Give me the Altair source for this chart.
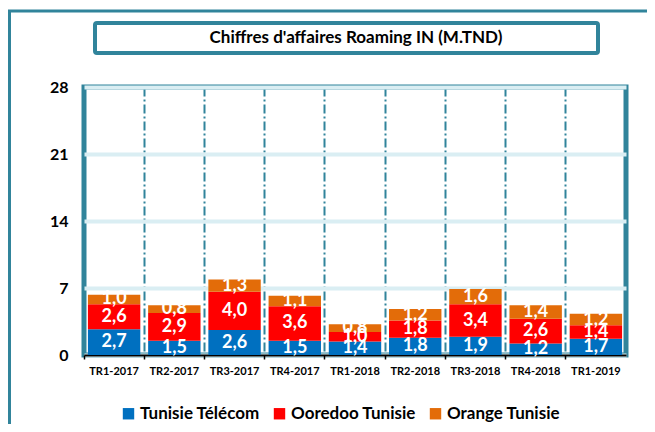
import altair as alt
import pandas as pd

quarters = ["TR1-2017", "TR2-2017", "TR3-2017", "TR4-2017", "TR1-2018",
            "TR2-2018", "TR3-2018", "TR4-2018", "TR1-2019"]
operators = ["Tunisie Télécom", "Ooredoo Tunisie", "Orange Tunisie"]
colors = ["#0070C0", "#FF0000", "#E36C09"]
tt = [2.7, 1.5, 2.6, 1.5, 1.4, 1.8, 1.9, 1.2, 1.7]
ooredoo = [2.6, 2.9, 4.0, 3.6, 1.0, 1.8, 3.4, 2.6, 1.4]
orange = [1.0, 0.8, 1.3, 1.1, 0.8, 1.2, 1.6, 1.4, 1.2]
y_ticks = [0, 7, 14, 21, 28]
title_text = "Chiffres d'affaires Roaming IN (M.TND)"

rows = []
for i, q in enumerate(quarters):
    for k, (op, vals) in enumerate(zip(operators, [tt, ooredoo, orange])):
        rows.append({"quarter": q, "operator": op, "value": vals[i], "order": k})
df = pd.DataFrame(rows)

FONT = "Lato"
TEAL = "#31849B"
W, H = 542, 268

base = alt.Chart(df).transform_stack(
    stack="value", groupby=["quarter"], as_=["y0", "y1"],
    sort=[alt.SortField("order", order="ascending")]
).transform_calculate(
    mid="(datum.y0 + datum.y1) / 2",
    label="replace(format(datum.value, '.1f'), '.', ',')"
)

x_enc = alt.X("quarter:N", sort=quarters, title=None,
              scale=alt.Scale(paddingInner=0, paddingOuter=0),
              axis=alt.Axis(labelAngle=0, labelFontWeight="bold", labelFontSize=11,
                            labelColor="black", labelPadding=6,
                            domainColor="black", domainWidth=2,
                            ticks=True, tickColor="black", tickSize=4, tickWidth=1.5,
                            bandPosition=0,
                            grid=True, gridColor=TEAL, gridWidth=2,
                            gridDash=[9, 3, 2, 3]))

bars = base.mark_bar(width=alt.RelativeBandSize(0.87)).encode(
    x=x_enc,
    y=alt.Y("y0:Q", title=None,
            scale=alt.Scale(domain=[0, 28], nice=False),
            axis=alt.Axis(values=y_ticks, domain=False, ticks=False,
                          labelFontWeight="bold", labelFontSize=16, labelColor="black",
                          labelPadding=16, grid=True, gridColor="#DAEEF3", gridWidth=4)),
    y2="y1:Q",
    color=alt.Color("operator:N", title=None,
                    scale=alt.Scale(domain=operators, range=colors),
                    legend=alt.Legend(orient="none", direction="horizontal",
                                      legendX=36, legendY=318,
                                      symbolType="square", symbolSize=130,
                                      symbolStrokeWidth=0,
                                      labelFontSize=17, labelFontWeight="bold",
                                      labelColor="black", columnPadding=11,
                                      labelOffset=3)),
    order=alt.Order("order:Q")
)

labels = base.mark_text(color="white", fontWeight="bold", fontSize=18,
                        baseline="middle", font=FONT).encode(
    x=alt.X("quarter:N", sort=quarters),
    y="mid:Q",
    text="label:N"
)

one = alt.Data(values=[{}])
frame_left = alt.Chart(one).mark_rule(color=TEAL, strokeWidth=3).encode(
    x=alt.value(-74.5), y=alt.value(-77), y2=alt.value(H + 90))
frame_top = alt.Chart(one).mark_rule(color=TEAL, strokeWidth=3).encode(
    x=alt.value(-76), x2=alt.value(W + 60), y=alt.value(-76))
title_box = alt.Chart(one).mark_rect(fill="white", stroke=TEAL, strokeWidth=4,
                                    cornerRadius=2).encode(
    x=alt.value(11), x2=alt.value(514), y=alt.value(-64), y2=alt.value(-34))
title = alt.Chart(one).mark_text(text=title_text, font=FONT, fontWeight="bold",
                                 fontSize=17, color="black", baseline="middle").encode(
    x=alt.value(272), y=alt.value(-49))

chart = alt.layer(frame_left, frame_top, title_box, title, bars, labels).properties(
    width=W, height=H,
    autosize=alt.AutoSizeParams(type="none"),
    padding={"left": 76, "top": 79, "right": 21, "bottom": 69}
).configure(font=FONT).configure_view(
    stroke=TEAL, strokeWidth=5
)

chart.save("out.html", embed_options={"renderer": "svg", "actions": False})
